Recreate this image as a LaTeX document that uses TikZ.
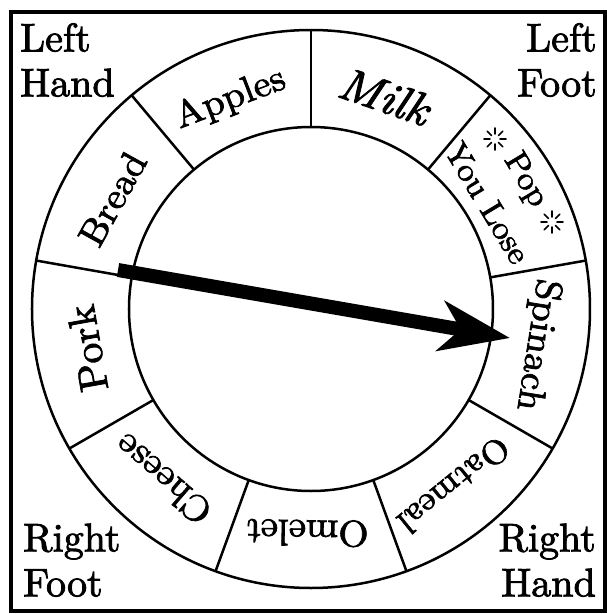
\documentclass[tikz,border=0pt]{standalone}
\usepackage{fontspec}
\newfontfamily\penfont{lmroman10-regular.otf}[ItalicFont=lmroman10-italic.otf, FakeBold=2, FakeStretch=1.05]
\newfontfamily\cornerfont{lmroman10-regular.otf}[FakeBold=2]
\usetikzlibrary{arrows.meta}

\begin{document}
\begin{tikzpicture}[
    x=1pt, y=1pt,
    ring/.style={line width=2.5},
    frame/.style={line width=3.5},
    item/.style={font=\penfont\fontsize{37}{40}\selectfont, inner sep=0},
    small/.style={font=\penfont\fontsize{32}{34}\selectfont, inner sep=0},
    limb/.style={font=\cornerfont\fontsize{40}{45}\selectfont, inner sep=0, align=left},
    spark/.style={line width=1.6, line cap=round},
    spinner/.style={line width=14, -{Stealth[length=70pt, width=50pt, inset=20pt]}}
  ]
    \useasboundingbox (-311,-305) rectangle (296,309);
    \draw[frame] (-300,-302) rectangle (294,297);

    % the wheel
    \draw[ring] (0,0) circle (279);
    \draw[ring] (0,0) circle (182);
    \foreach \a in {10,50,...,330}
      \draw[ring] (\a:182) -- (\a:279);

    \node[item, rotate=-19, font=\penfont\itshape\fontsize{46}{48}\selectfont] (milk) at (71:225) {Milk};
    \node[item, rotate=21] (apples) at (111:225) {Apples};
    \node[item, rotate=61] (bread) at (151:227) {Bread};
    \node[item, rotate=100, font=\penfont\fontsize{40}{42}\selectfont] (pork) at (190:227) {Pork};
    \node[item, rotate=139] (cheese) at (229:226) {Cheese};
    \node[item, rotate=179] (omelet) at (269:224) {Omelet};
    \node[item, rotate=219, font=\penfont\fontsize{34}{36}\selectfont] (oatmeal) at (309:227) {Oatmeal};
    \node[item, rotate=261] (spinach) at (351:229) {Spinach};
    \node[small, rotate=-59] (you lose) at (31:206) {You Lose};
    \node[small, rotate=-59] (pop) at (31:250) {Pop};

    \coordinate (spark a) at (184,170);
    \coordinate (spark b) at (241,87);
    \foreach \c in {spark a, spark b}
      \foreach \a in {0,45,...,315}
        \draw[spark] (\c) ++(\a:5) -- ++(\a:6);

    % corners
    \node[limb, anchor=north west] (left hand) at (-291,286) {Left\\Hand};
    \node[limb, anchor=north east, align=right] (left foot) at (286,286) {Left\\Foot};
    \node[limb, anchor=south west] (right foot) at (-288,-288) {Right\\Foot};
    \node[limb, anchor=south east, align=right] (right hand) at (285,-288) {Right\\Hand};

    % spinner
    \coordinate (spin base) at (-193,39);
    \coordinate (spin tip) at (199,-29);
    \draw[spinner] (spin base) -- (spin tip);
  \end{tikzpicture}
\end{document}
